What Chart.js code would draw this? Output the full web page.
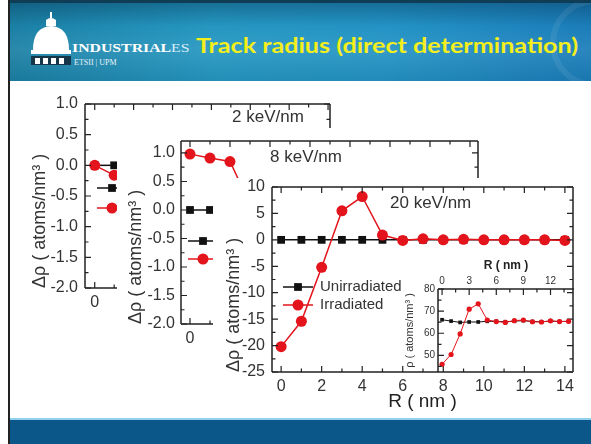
<!DOCTYPE html>
<html>
<head>
<meta charset="utf-8">
<script src="https://cdn.jsdelivr.net/npm/chart.js@4.4.1/dist/chart.umd.min.js"></script>
<style>
html, body { margin: 0; padding: 0; background: #fff; }
body { width: 591px; height: 444px; position: relative; overflow: hidden; font-family: "Liberation Sans", Arial, sans-serif; }
.abs { position: absolute; }
#edge { left: 8px; top: 0; width: 2px; height: 444px; background: #222; }
#head { left: 10px; top: 0; width: 581px; height: 81px; border-top: 3px solid #0e3d55; box-sizing: border-box;
  background: linear-gradient(180deg, rgba(0,40,70,0.35) 0%, rgba(0,0,0,0) 30%, rgba(255,255,255,0.07) 60%, rgba(0,0,0,0.06) 100%),
              linear-gradient(90deg, #1b80a5 0%, #2597c1 35%, #2393c5 65%, #1b7db9 100%); overflow: hidden; }
#seal { left: 540px; top: -5px; width: 90px; height: 90px; border-radius: 50%; border: 6px solid rgba(255,255,255,0.07); box-sizing: border-box; }
#title { left: 196px; top: 33px; color: #f4ee1c; font: bold 21px Lato, sans-serif; line-height: 24px; white-space: nowrap; transform-origin: left center; }
#inds { left: 72px; top: 42px; color: #fff; font: bold 11.5px "Liberation Serif", serif; line-height: 13px; white-space: nowrap; transform-origin: left center; }
#inds span { font-weight: normal; color: #d6eef8; }
#etsii { left: 74px; top: 58px; color: #e8f4fa; font: 8px "Liberation Serif", serif; line-height: 10px; white-space: nowrap; }
#footLine { left: 10px; top: 418px; width: 581px; height: 2px; background: #8fd0ee; }
#foot { left: 10px; top: 420px; width: 581px; height: 24px; background: #0b5789; }
canvas { position: absolute; }
#c1, #c2, #c3 { background: #fff; }
</style>
</head>
<body>
<div id="edge" class="abs"></div>
<div id="head" class="abs"><div id="seal" class="abs"></div></div>
<svg class="abs" style="left:28px;top:12px" width="46" height="58" viewBox="0 0 46 58">
  <rect x="22" y="0" width="2" height="6" fill="#fff"/>
  <path d="M18 14 L18 8 Q23 4 28 8 L28 14 Z" fill="#fff"/>
  <path d="M5 38 Q5 15 23 14 Q41 15 41 38 Z" fill="#fff"/>
  <rect x="3" y="38" width="40" height="4" fill="#fff"/>
  <rect x="3" y="44" width="40" height="9" fill="#16364a"/>
  <rect x="7" y="46" width="5" height="6" fill="#fff"/>
  <rect x="15" y="46" width="5" height="6" fill="#fff"/>
  <rect x="23" y="46" width="5" height="6" fill="#fff"/>
  <rect x="31" y="46" width="5" height="6" fill="#fff"/>
</svg>
<div id="inds" class="abs">INDUSTRIAL<span>ES</span></div>
<div id="etsii" class="abs">ETSII | UPM</div>
<div id="title" class="abs">Track radius (direct determination)</div>
<div id="footLine" class="abs"></div>
<div id="foot" class="abs"></div>

<canvas id="c1" width="320" height="228" style="left:20px;top:90px"></canvas>
<canvas id="c2" width="373" height="227" style="left:117px;top:128px"></canvas>
<canvas id="c3" width="372" height="236" style="left:213px;top:178px"></canvas>
<canvas id="c4" width="177" height="118" style="left:403px;top:258px"></canvas>

<script>
// ---- data ----
const seriesNames = ['Unirradiated', 'Irradiated'];
const yTitle = 'Δρ ( atoms/nm³ )';
const insetYTitle = 'ρ ( atoms/nm³ )';
const xTitle = 'R ( nm )';

// 2 keV/nm (mostly hidden behind the next panel)
const r2 = [0, 1];
const unirr2 = [0, 0];
const irr2 = [0.0, -0.16];

// 8 keV/nm
const r8 = [0, 1, 2, 3];
const unirr8 = [0, 0, 0, 0];
const irr8 = [0.98, 0.91, 0.85, 0.1];

// 20 keV/nm
const r20 = [0, 1, 2, 3, 4, 5, 6, 7, 8, 9, 10, 11, 12, 13, 14];
const unirr20 = [0, 0, 0, 0, 0, 0, 0, 0, 0, 0, 0, 0, 0, 0, 0];
const irr20 = [-20.2, -15.4, -5.2, 5.5, 8.2, 0.9, -0.1, 0.2, 0, 0.1, 0, 0, 0, 0, -0.1];

// inset: absolute density
const unirrInset = [66.1, 65.5, 64.9, 65.1, 65.1, 65.4, 65.4, 65.2, 65.5, 65.7, 65.3, 65.2, 65.5, 65.3, 65.4];
const irrInset = [46.0, 50.4, 59.7, 70.9, 73.3, 66.0, 65.3, 64.9, 65.7, 66.0, 65.2, 65.1, 65.6, 65.3, 65.4];

const panelNotes = ['2 keV/nm', '8 keV/nm', '20 keV/nm'];
const xTicksMain = [0, 2, 4, 6, 8, 10, 12, 14];
const yTicksSmall = [-2.0, -1.5, -1.0, -0.5, 0.0, 0.5, 1.0];
const yTicks20 = [-25, -20, -15, -10, -5, 0, 5, 10];
const xTicksInset = [0, 3, 6, 9, 12];
const yTicksInset = [50, 60, 70, 80];

const RED = '#e3141b', BLACK = '#111';
const FONT = "'Liberation Sans', Arial, sans-serif";
Chart.defaults.font.family = FONT;
Chart.defaults.color = '#333';

function pts(xs, ys) { return xs.map((x, i) => ({ x: x, y: ys[i] })); }

function stepVals(min, max, step) {
  const out = [];
  for (let v = Math.ceil(min / step - 1e-9) * step; v <= max + 1e-9; v += step) out.push(+v.toFixed(6));
  return out;
}
function isMajor(v, major) { const q = v / major; return Math.abs(q - Math.round(q)) < 1e-6; }

// frame with inward ticks, panel note and legend
const boxPlugin = {
  id: 'box',
  afterDatasetsDraw(chart, args, o) {
    const { ctx, chartArea: a } = chart;
    const xs = chart.scales.x, ys = chart.scales.y;
    ctx.save();
    ctx.strokeStyle = '#222';
    ctx.lineWidth = 1.5;
    ctx.beginPath();
    if (o.sides.includes('l')) { ctx.moveTo(a.left, a.top); ctx.lineTo(a.left, a.bottom); }
    if (o.sides.includes('r')) { ctx.moveTo(a.right, a.top); ctx.lineTo(a.right, a.bottom); }
    if (o.sides.includes('t')) { ctx.moveTo(a.left, a.top); ctx.lineTo(a.right, a.top); }
    if (o.sides.includes('b')) { ctx.moveTo(a.left, a.bottom); ctx.lineTo(a.right, a.bottom); }
    ctx.stroke();
    ctx.lineWidth = 1.2;
    ctx.beginPath();
    stepVals(xs.min, xs.max, o.xMinor).forEach(v => {
      const p = xs.getPixelForValue(v), len = isMajor(v, o.xMajor) ? 6 : 3.5;
      if (o.sides.includes('b')) { ctx.moveTo(p, a.bottom); ctx.lineTo(p, a.bottom - len); }
      if (o.sides.includes('t')) { ctx.moveTo(p, a.top); ctx.lineTo(p, a.top + len); }
    });
    stepVals(ys.min, ys.max, o.yMinor).forEach(v => {
      const p = ys.getPixelForValue(v), len = isMajor(v, o.yMajor) ? 6 : 3.5;
      if (o.sides.includes('l')) { ctx.moveTo(a.left, p); ctx.lineTo(a.left + len, p); }
      if (o.sides.includes('r')) { ctx.moveTo(a.right, p); ctx.lineTo(a.right - len, p); }
    });
    ctx.stroke();

    if (o.note) {
      ctx.fillStyle = '#333';
      ctx.font = '17px ' + FONT;
      ctx.textBaseline = 'middle';
      ctx.textAlign = 'left';
      ctx.fillText(o.note.text, a.left + o.note.dx, a.top + o.note.dy);
    }
    if (o.legend) {
      const L = o.legend;
      // legend in series order: unirradiated, irradiated
      [1, 0].forEach((di, row) => {
        const ds = chart.data.datasets[di];
        const y = a.top + L.dy + row * L.gap, x0 = a.left + L.dx;
        ctx.strokeStyle = ds.borderColor;
        ctx.lineWidth = ds.borderWidth;
        ctx.beginPath(); ctx.moveTo(x0, y); ctx.lineTo(x0 + 30, y); ctx.stroke();
        ctx.fillStyle = ds.backgroundColor;
        ctx.beginPath();
        if (ds.pointStyle === 'rect') {
          const s = ds.pointRadius * Math.SQRT1_2;
          ctx.rect(x0 + 15 - s, y - s, 2 * s, 2 * s);
        } else {
          ctx.arc(x0 + 15, y, ds.pointRadius, 0, Math.PI * 2);
        }
        ctx.fill();
        ctx.fillStyle = '#333';
        ctx.font = '15px ' + FONT;
        ctx.textBaseline = 'middle';
        ctx.textAlign = 'left';
        ctx.fillText(ds.label, x0 + 37, y);
      });
    }
    ctx.restore();
  }
};

function makeSets(xs, unirr, irr, r, lw) {
  return [
    { label: seriesNames[1], data: pts(xs, irr), borderColor: RED, backgroundColor: RED, borderWidth: lw,
      pointStyle: 'circle', pointRadius: r, pointBorderWidth: 0, order: 0 },
    { label: seriesNames[0], data: pts(xs, unirr), borderColor: BLACK, backgroundColor: BLACK, borderWidth: lw,
      pointStyle: 'rect', pointRadius: r, pointBorderWidth: 0, order: 1 }
  ];
}

function noEdgePadding(s) {
  s.paddingTop = 0; s.paddingBottom = 0; s.paddingLeft = 0; s.paddingRight = 0;
}

function makePanel(id, c) {
  const inRange = (vals, lo, hi) => vals.filter(v => v >= lo && v <= hi);
  return new Chart(document.getElementById(id), {
    type: 'line',
    data: { datasets: c.datasets },
    options: {
      responsive: false, animation: false, events: [],
      layout: { padding: c.pad },
      plugins: { legend: { display: false }, tooltip: { enabled: false }, box: c.box },
      scales: {
        x: {
          type: 'linear', position: c.xPos || 'bottom', min: c.xMin, max: c.xMax,
          grid: { display: false, drawTicks: false }, border: { display: false },
          afterBuildTicks: s => { s.ticks = inRange(c.xTicks, c.xMin, c.xMax).map(v => ({ value: v })); },
          afterFit: s => { s.height = c.xH; noEdgePadding(s); },
          ticks: { padding: c.xPad, autoSkip: false, maxRotation: 0, color: '#333',
                   font: { size: c.tickSize }, callback: v => String(v) },
          title: { display: !!c.xTitle, text: c.xTitle || '', color: '#222', padding: 0,
                   font: { size: c.xTitleSize, weight: c.xTitleWeight || 'normal' } }
        },
        y: {
          type: 'linear', min: c.yMin, max: c.yMax,
          grid: { display: false, drawTicks: false }, border: { display: false },
          afterBuildTicks: s => { s.ticks = inRange(c.yTicks, c.yMin, c.yMax).map(v => ({ value: v })); },
          afterFit: s => { s.width = c.yW; noEdgePadding(s); },
          ticks: { padding: c.yPad, autoSkip: false, color: '#333', font: { size: c.tickSize },
                   callback: v => c.yFix != null ? v.toFixed(c.yFix) : String(v) },
          title: { display: true, text: c.yTitle, align: c.yAlign || 'start', color: '#333', padding: 0,
                   font: { size: c.yTitleSize } }
        }
      }
    },
    plugins: [boxPlugin]
  });
}

makePanel('c1', {
  datasets: makeSets(r2, unirr2, irr2, 5.5, 1.5),
  pad: { left: 9, top: 14, right: 10, bottom: 0 },
  xMin: -0.5, xMax: 12.1, yMin: -2.0, yMax: 1.0,
  xTicks: xTicksMain, yTicks: yTicksSmall, yFix: 1,
  xH: 30, yW: 56, xPad: 5, yPad: 7, tickSize: 16,
  yTitle: yTitle, yTitleSize: 18,
  box: { sides: 'lrtb', xMajor: 2, xMinor: 1, yMajor: 0.5, yMinor: 0.25,
         note: { text: panelNotes[0], dx: 147, dy: 13 }, legend: { dx: 12, dy: 84, gap: 20 } }
});

makePanel('c2', {
  datasets: makeSets(r8, unirr8, irr8, 5.5, 1.5),
  pad: { left: 8, top: 13, right: 12, bottom: 0 },
  xMin: -0.45, xMax: 14.4, yMin: -2.0, yMax: 1.21,
  xTicks: xTicksMain, yTicks: yTicksSmall, yFix: 1,
  xH: 31, yW: 56, xPad: 5, yPad: 6, tickSize: 16,
  yTitle: yTitle, yTitleSize: 18,
  box: { sides: 'lrtb', xMajor: 2, xMinor: 1, yMajor: 0.5, yMinor: 0.25,
         note: { text: panelNotes[1], dx: 89, dy: 16 }, legend: { dx: 7, dy: 100, gap: 18 } }
});

makePanel('c3', {
  datasets: makeSets(r20, unirr20, irr20, 5.5, 1.5),
  pad: { left: 10, top: 9, right: 12, bottom: 1 },
  xMin: -0.45, xMax: 14.4, yMin: -25, yMax: 10,
  xTicks: xTicksMain, yTicks: yTicks20,
  xH: 41, yW: 49, xPad: 5, yPad: 7, tickSize: 16,
  xTitle: xTitle, xTitleSize: 19,
  yTitle: yTitle, yTitleSize: 18,
  box: { sides: 'lrtb', xMajor: 2, xMinor: 1, yMajor: 5, yMinor: 2.5,
         note: { text: panelNotes[2], dx: 118, dy: 16 }, legend: { dx: 11, dy: 100, gap: 18 } }
});

makePanel('c4', {
  datasets: makeSets(r20, unirrInset, irrInset, 2.6, 1),
  pad: { left: 0, top: 0, right: 6, bottom: 4 },
  xPos: 'top', xMin: -0.45, xMax: 14.6, yMin: 42.5, yMax: 80,
  xTicks: xTicksInset, yTicks: yTicksInset,
  xH: 31, yW: 35, xPad: 2, yPad: 3, tickSize: 10,
  xTitle: xTitle, xTitleSize: 12, xTitleWeight: 'bold',
  yTitle: insetYTitle, yTitleSize: 11, yAlign: 'center',
  box: { sides: 'lt', xMajor: 3, xMinor: 1.5, yMajor: 10, yMinor: 5 }
});

// fit header texts to their widths in the slide
function fitWidth(id, w) {
  const el = document.getElementById(id);
  el.style.transform = 'scaleX(' + (w / el.offsetWidth) + ')';
}
fitWidth('title', 382);
fitWidth('inds', 118);
</script>
</body>
</html>
